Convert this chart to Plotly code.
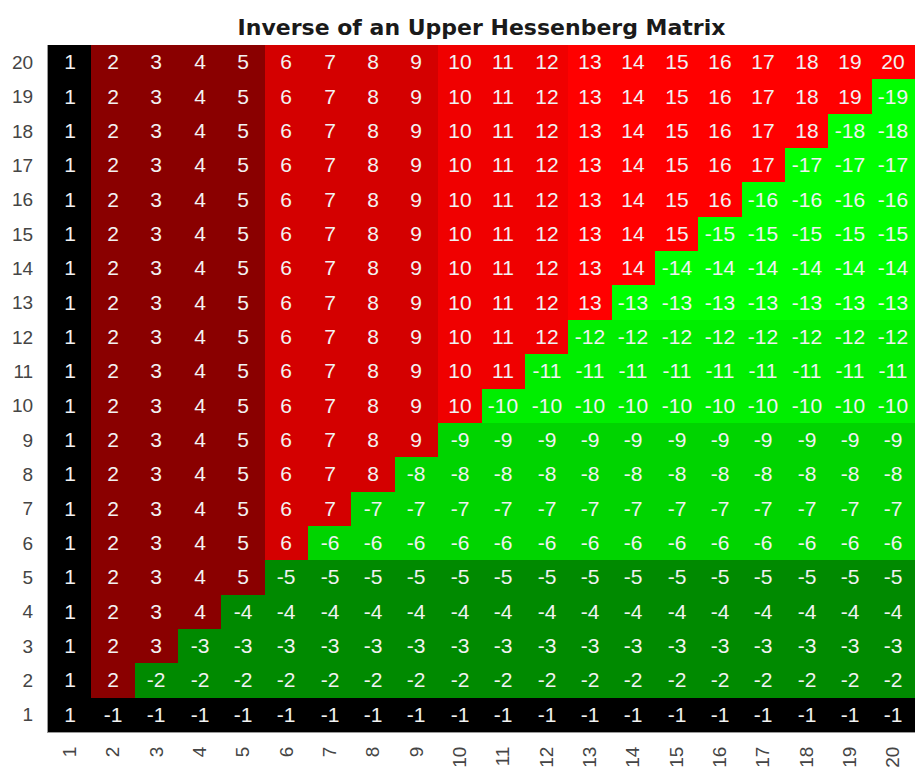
import plotly.graph_objects as go

# Matrix size and cell values: entry (r, c) is c on or below the diagonal
# band and -r to the right of it (rows counted from the bottom).
n = 20
rows = list(range(1, n + 1))
cols = list(range(1, n + 1))
values = [[c if c <= r else -r for c in cols] for r in rows]

tick_labels = [str(i) for i in range(1, n + 1)]

# Stepped colour bins: (lowest value, highest value, colour)
bin_low = [-20, -12, -9, -5, -1, 2, 6, 10, 13]
bin_high = [-13, -10, -6, -2, 1, 5, 9, 12, 20]
bin_colors = ["#00ff00", "#00ee00", "#00d400", "#008a00", "#000000",
              "#8a0000", "#d40000", "#f00000", "#ff0000"]

zmin, zmax = -20.5, 20.5
span = zmax - zmin
colorscale = []
for lo, hi, col in zip(bin_low, bin_high, bin_colors):
    colorscale.append([(lo - 0.5 - zmin) / span, col])
    colorscale.append([(hi + 0.5 - zmin) / span, col])
colorscale[0][0] = 0.0
colorscale[-1][0] = 1.0

fig = go.Figure(go.Heatmap(
    x=cols, y=rows, z=values,
    zmin=zmin, zmax=zmax,
    colorscale=colorscale, showscale=False,
    text=[[str(v) for v in row] for row in values],
    texttemplate="%{text}",
    textfont=dict(family="Liberation Sans, Arial, sans-serif", size=21, color="#f2f2f2"),
    hoverinfo="skip", xgap=0, ygap=0,
))

fig.update_layout(
    width=917, height=768,
    margin=dict(l=48, r=2, t=45, b=36),
    paper_bgcolor="white", plot_bgcolor="white",
    title=dict(text="<b>Inverse of an Upper Hessenberg Matrix</b>",
               x=(48 + 915) / 2 / 917, xanchor="center",
               y=1 - 27 / 768, yanchor="middle", yref="container",
               font=dict(family="DejaVu Sans, sans-serif", size=22, color="#1a1a1a")),
    font=dict(family="Liberation Sans, Arial, sans-serif", size=19, color="#454545"),
)
fig.update_xaxes(tickvals=cols, ticktext=tick_labels, tickangle=-90,
                 range=[0.5, n + 0.5], showgrid=False, zeroline=False,
                 ticks="", showline=True, linecolor="#999999", linewidth=1,
                 mirror=False, automargin=False, ticklabelstandoff=6)
fig.update_yaxes(tickvals=rows, ticktext=tick_labels,
                 range=[0.5, n + 0.5], showgrid=False, zeroline=False,
                 ticks="", showline=True, linecolor="#999999", linewidth=1,
                 automargin=False, ticklabelstandoff=10)

fig.write_html("out.html")
